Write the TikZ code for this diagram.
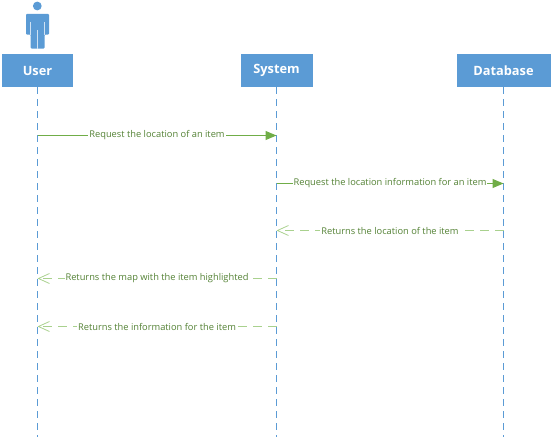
\documentclass[tikz,border=0pt]{standalone}
\usepackage{fontspec}
\setmainfont{Open Sans}
\usetikzlibrary{arrows.meta,calc}
\definecolor{hb}{HTML}{5B9BD5}
\definecolor{gd}{HTML}{70AD47}
\definecolor{gl}{HTML}{A9D18E}
\definecolor{tg}{HTML}{548235}
\tikzset{
 head/.style={fill=hb,draw=none,minimum height=33pt,text=white,font=\fontsize{12.8}{14}\selectfont\bfseries,inner sep=0pt},
 life/.style={draw=hb,line width=1pt,dash pattern=on 7pt off 5pt},
 call/.style={draw=gd,line width=1pt,-{Triangle[length=11pt,width=9pt]}},
 ret/.style={draw=gl,line width=1.2pt,dash pattern=on 9pt off 6pt,-{Straight Barb[length=11pt,width=10pt,line width=0.8pt]}},
 msg/.style={fill=white,text=tg,font=\fontsize{9.3}{11}\selectfont,inner xsep=1pt,inner ysep=0.5pt},
}
\begin{document}
\begin{tikzpicture}[x=1pt,y=-1pt]
\useasboundingbox (0,0) rectangle (553,438);
\node[head,minimum width=71pt] (user) at (37.5,70.5) {User};
\node[head,minimum width=72pt] (system) at (276.5,70.5) {System};
\node[head,minimum width=94pt] (database) at (503.5,70.5) {Database};
\coordinate (ue) at (37.5,437);
\coordinate (se) at (276.5,437);
\coordinate (de) at (503.5,437);
\draw[life] (user.south) -- (ue);
\draw[life] (system.south) -- (se);
\draw[life] (database.south) -- (de);
% actor
\fill[hb] (37.3,6) circle (4.4);
\fill[hb,rounded corners=1pt] (26,34.7) -- (26,14) -- (49,14) -- (49,34.7) -- (44.5,34.7) -- (44.5,48.7) -- (30.7,48.7) -- (30.7,34.7) -- cycle;
\draw[white!70!hb,line width=0.6pt] (37.5,30) -- (37.5,48.7);
\draw[white!70!hb,line width=0.5pt] (30.7,22) -- (30.7,34.7);
\draw[white!70!hb,line width=0.5pt] (44.5,22) -- (44.5,34.7);
\foreach \n/\x in {u/37.5,s/276.5,d/503.5}{
 \coordinate (\n1) at (\x,135.5);
 \coordinate (\n2) at (\x,183.5);
 \coordinate (\n3) at (\x,230.5);
 \coordinate (\n4) at (\x,278.5);
 \coordinate (\n5) at (\x,326.5);
}
\draw[call] (u1) -- node[msg] (m1) {Request the location of an item} (s1);
\draw[call] (s2) -- node[msg] (m2) {Request the location information for an item} (d2);
\draw[ret] (d3) -- node[msg] (m3) {Returns the location of the item} (s3);
\draw[ret] (s4) -- node[msg] (m4) {Returns the map with the item highlighted} (u4);
\draw[ret] (s5) -- node[msg] (m5) {Returns the information for the item} (u5);
\end{tikzpicture}
\end{document}
